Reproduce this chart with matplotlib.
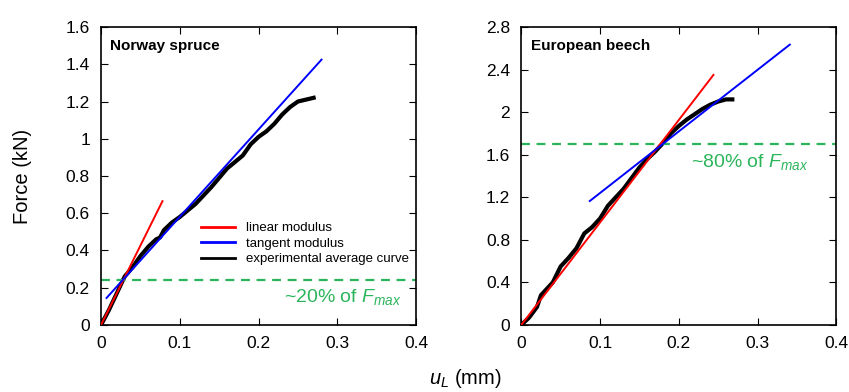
import matplotlib
matplotlib.use("Agg")
import matplotlib.pyplot as plt
from matplotlib.ticker import FuncFormatter
from matplotlib.lines import Line2D

plt.rcParams['font.family'] = ['Liberation Sans', 'DejaVu Sans']
plt.rcParams['mathtext.fontset'] = 'custom'
plt.rcParams['mathtext.it'] = 'Liberation Sans:italic'
plt.rcParams['mathtext.rm'] = 'Liberation Sans'

# Norway spruce
spruce_x = [0, 0.01, 0.02, 0.03, 0.04, 0.05, 0.06, 0.07, 0.075, 0.08, 0.09, 0.10,
            0.12, 0.14, 0.16, 0.18, 0.19, 0.20, 0.21, 0.22, 0.23, 0.24, 0.25, 0.26, 0.27]
spruce_y = [0, 0.08, 0.17, 0.26, 0.31, 0.37, 0.42, 0.46, 0.47, 0.51, 0.55, 0.58,
            0.65, 0.74, 0.84, 0.91, 0.97, 1.01, 1.04, 1.08, 1.13, 1.17, 1.20, 1.21, 1.22]
spruce_lin_x = [0, 0.078]
spruce_lin_y = [0, 0.665]
spruce_tan_x = [0.007, 0.28]
spruce_tan_y = [0.145, 1.425]
spruce_level = 0.24

# European beech
beech_x = [0, 0.01, 0.02, 0.025, 0.03, 0.04, 0.05, 0.06, 0.07, 0.08, 0.09, 0.10,
           0.11, 0.12, 0.13, 0.14, 0.15, 0.16, 0.17, 0.18, 0.19, 0.20, 0.21, 0.22,
           0.23, 0.24, 0.25, 0.26, 0.268]
beech_y = [0, 0.07, 0.17, 0.28, 0.32, 0.40, 0.55, 0.63, 0.72, 0.86, 0.92, 1.00,
           1.12, 1.20, 1.28, 1.38, 1.48, 1.56, 1.63, 1.71, 1.80, 1.87, 1.93, 1.98,
           2.03, 2.07, 2.10, 2.12, 2.12]
beech_lin_x = [0, 0.244]
beech_lin_y = [0, 2.35]
beech_tan_x = [0.087, 0.341]
beech_tan_y = [1.165, 2.635]
beech_level = 1.7

legend_labels = ['linear modulus', 'tangent modulus', 'experimental average curve']
legend_colors = ['red', 'blue', 'black']

green = '#2bb55a'

fig = plt.figure(figsize=(8.49, 3.92), dpi=100)
ax1 = fig.add_axes([0.119, 0.171, 0.371, 0.760])
ax2 = fig.add_axes([0.614, 0.171, 0.371, 0.760])

fmt = FuncFormatter(lambda v, p: '%g' % round(v, 2))

def style(ax, ymax, ystep):
    ax.set_xlim(0, 0.4)
    ax.set_ylim(0, ymax)
    ax.set_xticks([0, 0.1, 0.2, 0.3, 0.4])
    n = int(round(ymax / ystep))
    ax.set_yticks([i * ystep for i in range(n + 1)])
    ax.xaxis.set_major_formatter(fmt)
    ax.yaxis.set_major_formatter(fmt)
    ax.tick_params(direction='in', top=True, right=True, length=5, labelsize=12.5, pad=8)
    for s in ax.spines.values():
        s.set_linewidth(1.2)

ax1.plot(spruce_lin_x, spruce_lin_y, color='red', lw=1.4, zorder=3)
ax1.plot(spruce_tan_x, spruce_tan_y, color='blue', lw=1.4, zorder=3)
ax1.plot(spruce_x, spruce_y, color='black', lw=3, zorder=2)
ax1.axhline(spruce_level, color=green, ls=(0, (4, 3)), lw=1.6)
ax1.text(0.382, 0.152, r'~20% of $F_{max}$', color=green, fontsize=14, ha='right', va='center')
ax1.text(0.012, 1.5, 'Norway spruce', fontweight='bold', fontsize=11, va='center')
style(ax1, 1.6, 0.2)
handles = [Line2D([], [], color=c, lw=2) for c in legend_colors]
ax1.legend(handles, legend_labels, loc='upper left', bbox_to_anchor=(0.318, 0.345),
           frameon=False, fontsize=9.5, handlelength=2.6, labelspacing=0.25,
           handletextpad=0.8, borderaxespad=0, borderpad=0)

ax2.plot(beech_lin_x, beech_lin_y, color='red', lw=1.4, zorder=3)
ax2.plot(beech_tan_x, beech_tan_y, color='blue', lw=1.4, zorder=3)
ax2.plot(beech_x, beech_y, color='black', lw=3, zorder=2)
ax2.axhline(beech_level, color=green, ls=(0, (4, 3)), lw=1.6)
ax2.text(0.215, 1.53, r'~80% of $F_{max}$', color=green, fontsize=14, ha='left', va='center')
ax2.text(0.012, 2.62, 'European beech', fontweight='bold', fontsize=11, va='center')
style(ax2, 2.8, 0.4)

fig.text(0.026, 0.551, 'Force (kN)', rotation=90, fontsize=14.5, ha='center', va='center')
fig.text(0.548, 0.035, r'$u_L$ (mm)', fontsize=14.5, ha='center', va='center')

fig.savefig('out.png', dpi=100)
